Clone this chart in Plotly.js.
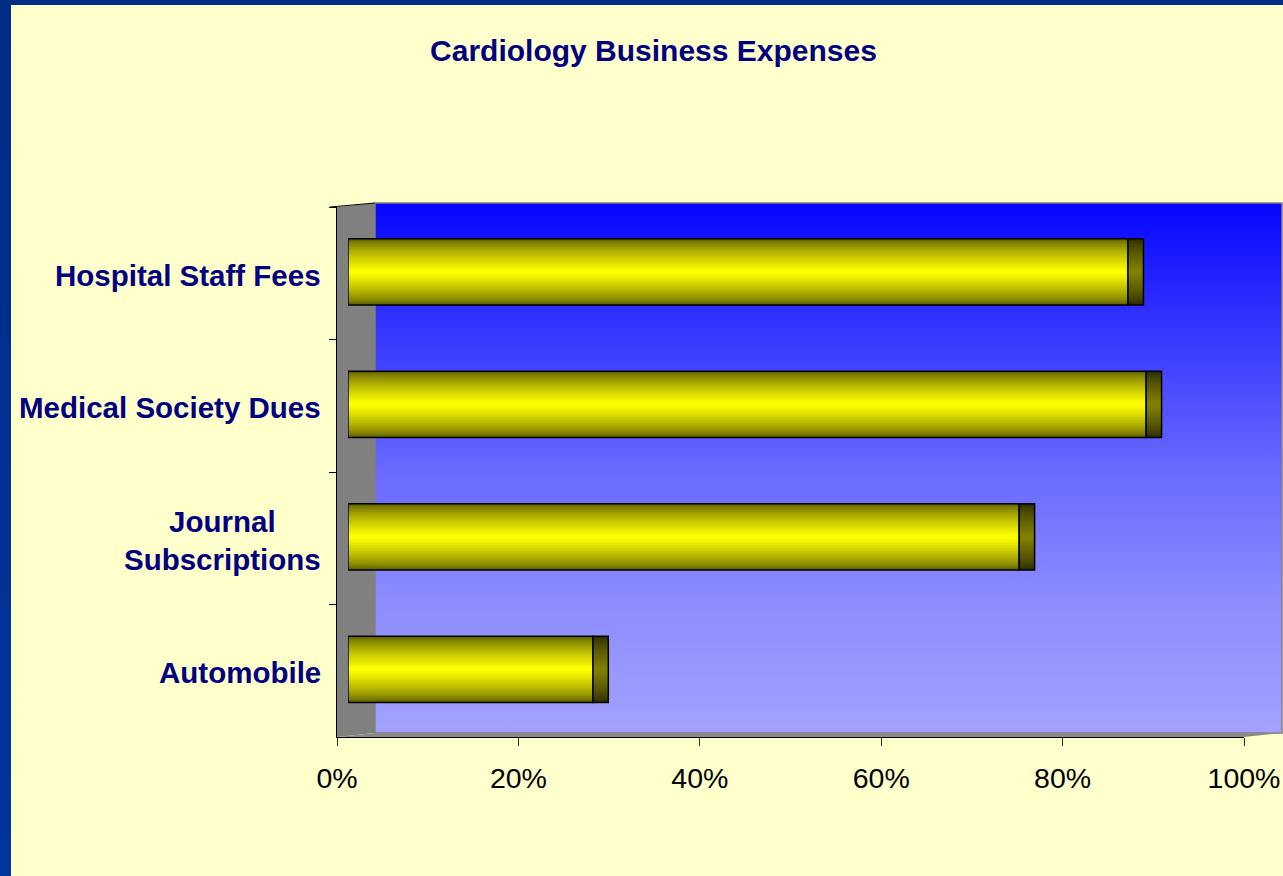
<!DOCTYPE html>
<html>
<head>
<meta charset="utf-8">
<script src="https://cdn.plot.ly/plotly-3.0.1.min.js"></script>
<style>
  html, body { margin:0; padding:0; background:#FFFFCC; overflow:hidden; }
  #wrap { position:relative; width:1283px; height:876px; }
  #chart { position:absolute; left:0; top:0; width:1283px; height:876px; }
  #bl { position:absolute; left:0; top:0; width:11px; height:876px; background:linear-gradient(#002D86,#00359E); z-index:5; }
  #bt { position:absolute; left:0; top:0; width:1283px; height:5px; background:#002D86; z-index:5; }
</style>
</head>
<body>
<div id="wrap"><div id="chart"></div><div id="bl"></div><div id="bt"></div></div>
<script>
// ---- data ----
const categories = ['Hospital Staff Fees', 'Medical Society Dues', 'Journal Subscriptions', 'Automobile'];
const categoryLabels = ['Hospital Staff Fees', 'Medical Society Dues', 'Journal<br>Subscriptions', 'Automobile'];
const values = [86, 88, 74, 27];
const tickVals = [0, 20, 40, 60, 80, 100];
const tickText = ['0%', '20%', '40%', '60%', '80%', '100%'];
const chartTitle = 'Cardiology Business Expenses';

// ---- styling helpers ----
const W = 1283, H = 876;
const L = 337, R = 0, T = 207, B = 139;
const PW = W - L - R, PH = H - T - B;
const px = X => (X - L) / PW;          // pixel -> paper x
const py = Y => (H - B - Y) / PH;      // pixel -> paper y
const FONT = '"Liberation Sans", Arial, Helvetica, sans-serif';
const NAVY = '#000080';
const BAR_W = 0.5;
const SHIFT = 0.011;     // small upward depth shift of the bars (style)
const CAP_DEPTH = 1.7;   // depth of the 3-D end cap, in axis units (style)
const N = 16;

function lerp(a, b, t) {
  return 'rgb(' + a.map((v, i) => Math.round(v + (b[i] - v) * t)).join(',') + ')';
}

const traces = [];
const zeroBase = categories.map(() => 0);
const capLen = categories.map(() => CAP_DEPTH);

// empty trace so that the main x/y subplot (visible axes) exists
traces.push({ type: 'scatter', x: [], y: [], xaxis: 'x', yaxis: 'y', hoverinfo: 'skip', showlegend: false });

function layer(xs, base, w, color, line) {
  return {
    type: 'bar', orientation: 'h', xaxis: 'x2', yaxis: 'y',
    y: categories, x: xs, base: base,
    width: w, offset: -w / 2 - SHIFT,
    marker: { color: color, line: line },
    hoverinfo: 'skip', showlegend: false
  };
}

// front face: stacked layers give a vertical gradient
for (let i = 0; i < N; i++) {
  const t = Math.pow(i / (N - 1), 0.75);
  traces.push(layer(values, zeroBase, BAR_W * (1 - i / N), lerp([100, 100, 0], [255, 255, 0], t), { width: 0 }));
}
traces.push(layer(values, zeroBase, BAR_W, 'rgba(0,0,0,0)', { width: 1.5, color: '#000' }));
// end cap
for (let i = 0; i < N; i++) {
  const t = Math.pow(i / (N - 1), 0.75);
  traces.push(layer(capLen, values, BAR_W * (1 - i / N), lerp([45, 45, 0], [128, 128, 0], t), { width: 0 }));
}
traces.push(layer(capLen, values, BAR_W, 'rgba(0,0,0,0)', { width: 1.5, color: '#000' }));

// 3-D frame (walls + floor) drawn as a background image
const fx0 = 330, fy0 = 200, fw = 953, fh = 540;
const svg =
  '<svg xmlns="http://www.w3.org/2000/svg" width="' + fw + '" height="' + fh + '" viewBox="0 0 ' + fw + ' ' + fh + '" preserveAspectRatio="none">' +
  '<defs><linearGradient id="g" x1="0" y1="0" x2="0" y2="1">' +
  '<stop offset="0" stop-color="#0606FF"/>' +
  '<stop offset="0.25" stop-color="#3838FF"/>' +
  '<stop offset="0.5" stop-color="#6868FF"/>' +
  '<stop offset="0.75" stop-color="#8C8CFF"/>' +
  '<stop offset="1" stop-color="#A2A2FF"/>' +
  '</linearGradient></defs>' +
  '<rect x="45" y="3" width="907" height="530" fill="url(#g)" stroke="#808080" stroke-width="1.5"/>' +
  '<polygon points="7,7 45,3 45,533 7,537" fill="#808080"/>' +
  '<polygon points="7,537 45,533 952,533 914,537" fill="#8a8a8a"/>' +
  '<line x1="0" y1="7" x2="45" y2="3" stroke="#000" stroke-width="1"/>' +
  '</svg>';

const annotations = categories.map((c, i) => ({
  xref: 'paper', yref: 'y', x: px(322), y: c, xanchor: 'right', yanchor: 'middle',
  text: categoryLabels[i], align: 'center', showarrow: false, yshift: -2, borderpad: 0,
  font: { family: FONT, size: 29.5, color: NAVY, weight: 'bold' }
}));

const layout = {
  width: W, height: H,
  margin: { l: L, r: R, t: T, b: B, pad: 0 },
  paper_bgcolor: '#FFFFCC', plot_bgcolor: 'rgba(0,0,0,0)',
  showlegend: false, barmode: 'overlay',
  title: {
    text: chartTitle, xref: 'container', yref: 'container',
    x: 653.5 / W, xanchor: 'center', y: 1 - 50 / H, yanchor: 'middle',
    font: { family: FONT, size: 30, color: NAVY, weight: 'bold' }
  },
  xaxis: {
    domain: [0, 907 / PW], range: [0, 100], anchor: 'y',
    tickvals: tickVals, ticktext: tickText,
    ticks: 'outside', ticklen: 8, tickcolor: '#333', tickwidth: 1,
    showline: true, linecolor: '#000', linewidth: 1,
    showgrid: false, zeroline: false, ticklabelstandoff: 8,
    tickfont: { family: FONT, size: 28.5, color: '#000' }
  },
  xaxis2: {
    domain: [px(348), px(348 + 907)], range: [0, 100], anchor: 'y',
    visible: false, showgrid: false, zeroline: false
  },
  yaxis: {
    type: 'category', categoryorder: 'array', categoryarray: categories,
    range: [3.5, -0.5], anchor: 'x',
    ticks: 'outside', tickson: 'boundaries', ticklen: 7, tickcolor: '#000', tickwidth: 1,
    showline: true, linecolor: '#000', linewidth: 1,
    showgrid: false, zeroline: false, showticklabels: false
  },
  images: [{
    source: 'data:image/svg+xml;charset=utf-8,' + encodeURIComponent(svg),
    xref: 'paper', yref: 'paper',
    x: px(fx0), y: py(fy0), sizex: fw / PW, sizey: fh / PH,
    xanchor: 'left', yanchor: 'top', sizing: 'stretch', layer: 'below'
  }],
  annotations: annotations
};

Plotly.newPlot('chart', traces, layout, { staticPlot: true, displayModeBar: false });
</script>
</body>
</html>
